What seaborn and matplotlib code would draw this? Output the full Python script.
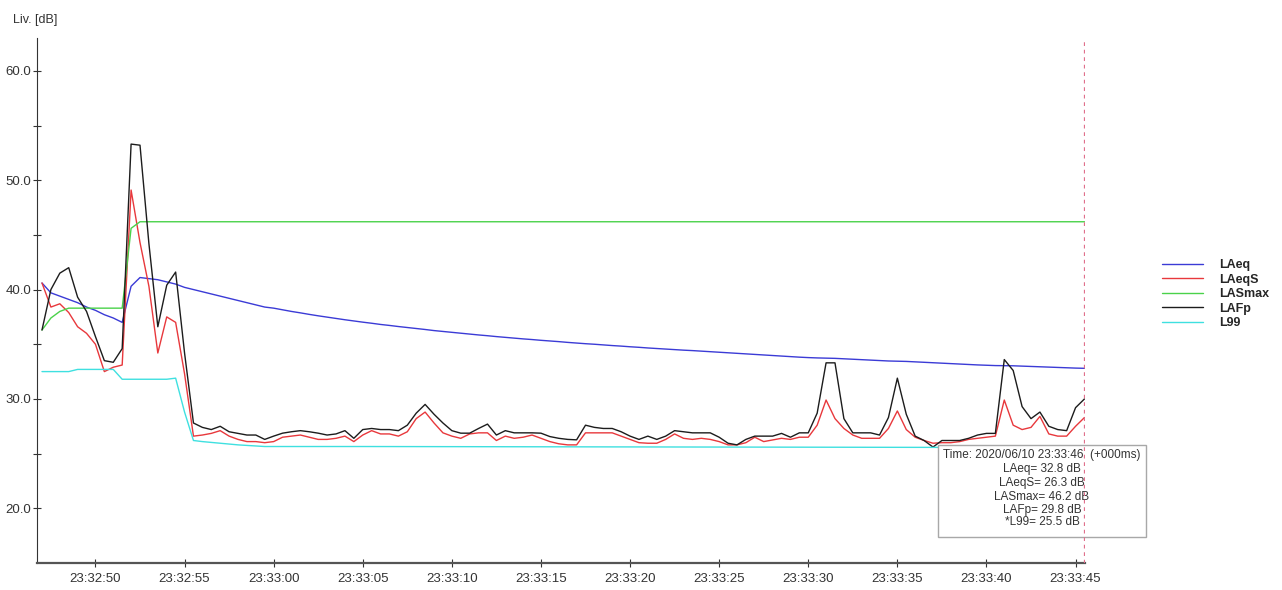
import matplotlib
matplotlib.use("Agg")
import matplotlib.pyplot as plt
import matplotlib.dates as mdates
from matplotlib.patches import Rectangle
import pandas as pd
import seaborn as sns

# Sound level log: 0.5 s samples starting at 23:32:47
start_time = "2020-06-10 23:32:47"
n_samples = 118

laeq = [
    40.6, 39.7, 39.4, 39.1, 38.8, 38.4, 38.1, 37.7, 37.4, 37.0,
    40.3, 41.1, 41.0, 40.9, 40.7, 40.5, 40.2, 40.0, 39.8, 39.6,
    39.4, 39.2, 39.0, 38.8, 38.6, 38.4, 38.3, 38.15, 38.0, 37.87,
    37.73, 37.6, 37.48, 37.36, 37.24, 37.13, 37.02, 36.92, 36.81, 36.72,
    36.62, 36.53, 36.44, 36.35, 36.25, 36.17, 36.09, 36.01, 35.93, 35.85,
    35.78, 35.7, 35.63, 35.56, 35.49, 35.43, 35.36, 35.3, 35.24, 35.17,
    35.11, 35.05, 35.0, 34.94, 34.88, 34.83, 34.77, 34.72, 34.66, 34.61,
    34.56, 34.51, 34.46, 34.42, 34.37, 34.32, 34.27, 34.22, 34.17, 34.12,
    34.07, 34.02, 33.97, 33.92, 33.87, 33.82, 33.78, 33.75, 33.73, 33.71,
    33.67, 33.63, 33.59, 33.55, 33.51, 33.47, 33.45, 33.43, 33.39, 33.35,
    33.31, 33.27, 33.23, 33.19, 33.15, 33.11, 33.08, 33.05, 33.04, 33.03,
    33.0, 32.97, 32.94, 32.91, 32.88, 32.85, 32.82, 32.8,
]

laeqs = [
    40.6, 38.4, 38.7, 37.9, 36.6, 36.0, 35.0, 32.5, 32.9, 33.1,
    49.1, 44.3, 40.3, 34.2, 37.5, 37.0, 32.3, 26.6, 26.7, 26.85,
    27.1, 26.6, 26.3, 26.1, 26.1, 26.0, 26.1, 26.5, 26.6, 26.7,
    26.5, 26.3, 26.3, 26.4, 26.6, 26.1, 26.7, 27.1, 26.8, 26.8,
    26.6, 27.0, 28.2, 28.8, 27.8, 26.9, 26.6, 26.4, 26.8, 26.9,
    26.9, 26.2, 26.6, 26.4, 26.5, 26.7, 26.4, 26.1, 25.9, 25.8,
    25.8, 26.9, 26.9, 26.9, 26.9, 26.6, 26.3, 26.0, 25.95, 25.95,
    26.3, 26.8, 26.4, 26.3, 26.4, 26.3, 26.1, 25.8, 25.8, 26.0,
    26.5, 26.1, 26.25, 26.4, 26.3, 26.5, 26.5, 27.6, 29.9, 28.2,
    27.3, 26.7, 26.4, 26.4, 26.4, 27.3, 28.9, 27.2, 26.5, 26.2,
    25.95, 26.0, 26.0, 26.1, 26.3, 26.4, 26.5, 26.6, 29.9, 27.6,
    27.2, 27.4, 28.4, 26.8, 26.6, 26.6, 27.5, 28.3,
]

lafp = [
    36.3, 40.0, 41.5, 42.0, 39.3, 38.0, 35.7, 33.5, 33.35, 34.6,
    53.3, 53.2, 44.2, 36.6, 40.4, 41.6, 34.2, 27.8, 27.4, 27.2,
    27.5, 27.0, 26.85, 26.7, 26.7, 26.3, 26.6, 26.87, 27.0, 27.1,
    27.0, 26.87, 26.7, 26.8, 27.1, 26.4, 27.2, 27.3, 27.2, 27.2,
    27.1, 27.6, 28.7, 29.5, 28.6, 27.8, 27.1, 26.87, 26.87, 27.3,
    27.7, 26.7, 27.1, 26.9, 26.9, 26.9, 26.87, 26.56, 26.4, 26.3,
    26.26, 27.6, 27.4, 27.3, 27.3, 27.0, 26.6, 26.3, 26.6, 26.3,
    26.6, 27.1, 27.0, 26.9, 26.9, 26.9, 26.5, 25.95, 25.8, 26.3,
    26.6, 26.6, 26.6, 26.85, 26.5, 26.9, 26.9, 28.7, 33.3, 33.3,
    28.2, 26.9, 26.9, 26.9, 26.7, 28.3, 31.9, 28.6, 26.6, 26.2,
    25.6, 26.2, 26.2, 26.2, 26.4, 26.7, 26.85, 26.85, 33.6, 32.6,
    29.3, 28.2, 28.8, 27.5, 27.2, 27.1, 29.2, 30.0,
]

# LASmax and L99 only change at a few instants
lasmax_times = ["23:32:47.0", "23:32:47.5", "23:32:48.0", "23:32:48.5",
                "23:32:51.5", "23:32:52.0", "23:32:52.5", "23:33:45.5"]
lasmax = [36.3, 37.4, 38.0, 38.3, 38.3, 45.6, 46.2, 46.2]

l99_times = ["23:32:47.0", "23:32:48.5", "23:32:49.0", "23:32:51.0",
             "23:32:51.5", "23:32:54.0", "23:32:54.5", "23:32:55.0",
             "23:32:55.5", "23:32:56.0", "23:32:57.0", "23:32:58.0",
             "23:32:59.5", "23:33:05.0", "23:33:45.5"]
l99 = [32.5, 32.5, 32.7, 32.7, 31.8, 31.8, 31.9, 28.8,
       26.2, 26.1, 25.95, 25.8, 25.65, 25.65, 25.55]

tooltip_lines = [
    "Time: 2020/06/10 23:33:46  (+000ms)",
    "LAeq= 32.8 dB",
    "LAeqS= 26.3 dB",
    "LASmax= 46.2 dB",
    "LAFp= 29.8 dB",
    "*L99= 25.5 dB",
]

colors = {
    "LAeq": "#3b3bd6",
    "LAeqS": "#e8383c",
    "LASmax": "#4ad24a",
    "LAFp": "#1c1c1c",
    "L99": "#3fe0e0",
}

times = pd.date_range(start_time, periods=n_samples, freq="500ms")
day = "2020-06-10 "
t_lasmax = pd.to_datetime([day + t for t in lasmax_times])
t_l99 = pd.to_datetime([day + t for t in l99_times])

sns.set_style("ticks")
plt.rcParams["font.family"] = ["Liberation Sans", "DejaVu Sans"]

fig = plt.figure(figsize=(12.82, 5.90), dpi=100)
ax = fig.add_axes([37 / 1282, 27 / 590, 1048 / 1282, 525 / 590])

lw = 1.0
sns.lineplot(x=times, y=laeq, ax=ax, color=colors["LAeq"], label="LAeq", linewidth=lw)
sns.lineplot(x=times, y=laeqs, ax=ax, color=colors["LAeqS"], label="LAeqS", linewidth=lw)
sns.lineplot(x=t_lasmax, y=lasmax, ax=ax, color=colors["LASmax"], label="LASmax", linewidth=lw)
sns.lineplot(x=times, y=lafp, ax=ax, color=colors["LAFp"], label="LAFp", linewidth=lw)
sns.lineplot(x=t_l99, y=l99, ax=ax, color=colors["L99"], label="L99", linewidth=lw)

handles, labels = ax.get_legend_handles_labels()
ax.get_legend().remove()
fig.legend(handles, labels, loc="upper left", bbox_to_anchor=(1162 / 1282, 1 - 259 / 590),
           frameon=False, prop={"weight": "bold", "size": 9}, handlelength=3.3,
           handletextpad=1.3, labelspacing=0.2, borderpad=0, borderaxespad=0)

# axes limits and ticks
ax.set_xlim(times[0] - pd.Timedelta("280ms"), times[-1] + pd.Timedelta("30ms"))
ax.set_ylim(15, 63)
ax.xaxis.set_major_locator(mdates.SecondLocator(bysecond=range(0, 60, 5)))
ax.xaxis.set_major_formatter(mdates.DateFormatter("%H:%M:%S"))
ax.set_yticks([20, 30, 40, 50, 60])
ax.set_yticklabels(["20.0", "30.0", "40.0", "50.0", "60.0"])
ax.set_yticks([25, 35, 45, 55], minor=True)
ax.set_xlabel("")
ax.set_ylabel("")

ax.tick_params(axis="y", which="both", direction="inout", length=6, width=0.8,
               color="#333333", labelsize=9.5, labelcolor="#333333", pad=1)
ax.tick_params(axis="x", which="major", direction="inout", length=6, width=0.8,
               color="#333333", labelsize=9.5, labelcolor="#333333", pad=4)

sns.despine(ax=ax)
ax.spines["left"].set_color("#333333")
ax.spines["left"].set_linewidth(0.8)
ax.spines["bottom"].set_color("#555555")
ax.spines["bottom"].set_linewidth(1.6)

fig.text(13 / 1282, 1 - 20 / 590, "Liv. [dB]", fontsize=9, color="#333333", va="center")

# tooltip box at the cursor
ax.add_patch(Rectangle((938 / 1282, 1 - 537 / 590), 208 / 1282, 92 / 590,
                       transform=fig.transFigure, facecolor="white",
                       edgecolor="#a8a8a8", linewidth=1.0, zorder=10, clip_on=False))
line_y = [455, 469, 483, 497, 510, 522]
for txt, yy in zip(tooltip_lines, line_y):
    ax.text(1042 / 1282, 1 - yy / 590, txt, transform=fig.transFigure, ha="center",
            va="center", fontsize=8.5, color="#333333", zorder=11, clip_on=False)

# cursor
ax.axvline(times[-1], color="#e0708c", linestyle=(0, (3, 3)), linewidth=0.9, zorder=12)

fig.savefig("out.png", dpi=100)
